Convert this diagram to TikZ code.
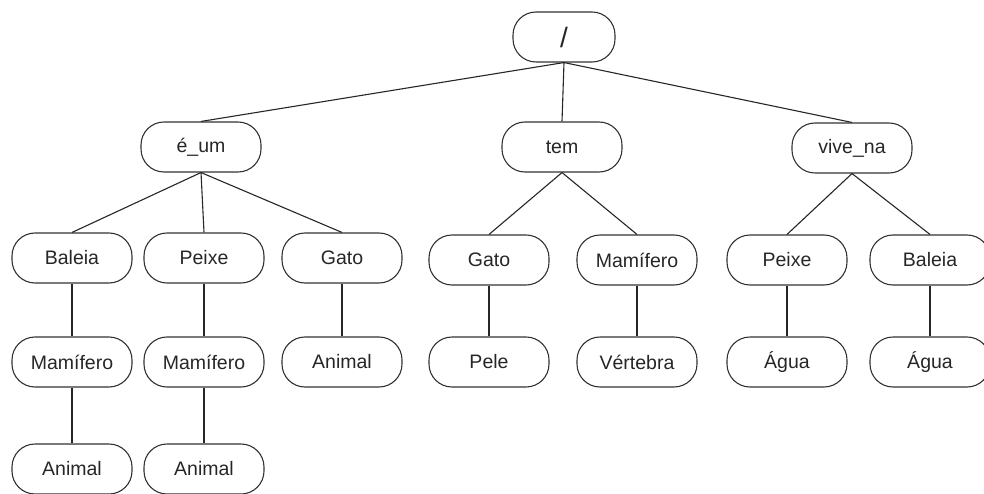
\documentclass[tikz,border=0pt]{standalone}
\usepackage{fontspec}
\setmainfont{Liberation Sans}
\begin{document}
\begin{tikzpicture}[x=1pt,y=-1pt,
  box/.style={draw=black!80, line width=1.1pt, rectangle, rounded corners=23pt,
    minimum width=120pt, minimum height=50pt, inner sep=0pt,
    font=\fontsize{19.5}{22}\selectfont, text=black!85},
  edge/.style={draw=black!85, line width=1.1pt}]
\useasboundingbox (0,0) rectangle (984,494);
% root
\node[box, minimum width=102pt, font=\fontsize{28}{30}\selectfont] (root) at (564,37) {/};
% level 1
\node[box] (eum) at (201,147) {é\_um};
\node[box] (tem) at (562,147) {tem};
\node[box] (vive) at (852,148) {vive\_na};
% level 2
\node[box] (baleia1) at (72,258) {Baleia};
\node[box] (peixe1) at (204,258) {Peixe};
\node[box] (gato1) at (342,258) {Gato};
\node[box] (gato2) at (489,260) {Gato};
\node[box] (mam2) at (637,260) {Mamífero};
\node[box] (peixe3) at (787,260) {Peixe};
\node[box] (baleia3) at (930,260) {Baleia};
% level 3
\node[box] (mam1a) at (72,362) {Mamífero};
\node[box] (mam1b) at (204,362) {Mamífero};
\node[box] (animal1) at (342,362) {Animal};
\node[box] (pele) at (489,362) {Pele};
\node[box] (vert) at (637,362) {Vértebra};
\node[box] (agua1) at (787,362) {Água};
\node[box] (agua2) at (930,362) {Água};
% level 4
\node[box] (animal2) at (72,469) {Animal};
\node[box] (animal3) at (204,469) {Animal};
% edges
\draw[edge] (root.south) -- (eum.north);
\draw[edge] (root.south) -- (tem.north);
\draw[edge] (root.south) -- (vive.north);
\draw[edge] (eum.south) -- (baleia1.north);
\draw[edge] (eum.south) -- (peixe1.north);
\draw[edge] (eum.south) -- (gato1.north);
\draw[edge] (tem.south) -- (gato2.north);
\draw[edge] (tem.south) -- (mam2.north);
\draw[edge] (vive.south) -- (peixe3.north);
\draw[edge] (vive.south) -- (baleia3.north);
\draw[edge] (baleia1) -- (mam1a);
\draw[edge] (peixe1) -- (mam1b);
\draw[edge] (gato1) -- (animal1);
\draw[edge] (gato2) -- (pele);
\draw[edge] (mam2) -- (vert);
\draw[edge] (peixe3) -- (agua1);
\draw[edge] (baleia3) -- (agua2);
\draw[edge] (mam1a) -- (animal2);
\draw[edge] (mam1b) -- (animal3);
\end{tikzpicture}
\end{document}
